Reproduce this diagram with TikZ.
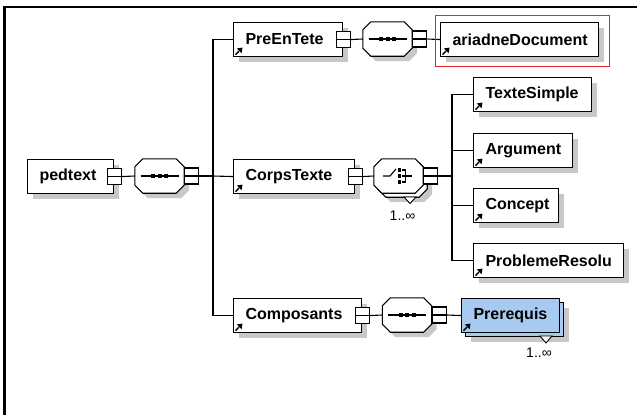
\documentclass[tikz,border=0pt]{standalone}
\usepackage{fontspec}
\setmainfont{Liberation Sans}
\usetikzlibrary{shadows}
\definecolor{shgray}{RGB}{200,200,200}
\definecolor{preblue}{RGB}{166,202,240}
\definecolor{hilite}{RGB}{228,40,40}
\newcommand\eltext[2]{\makebox[#1][l]{\hspace{12pt}#2}}
\newcommand\octpath[1]{([xshift=8pt]#1.north west) -- ([xshift=-8pt]#1.north east) -- ([yshift=-8pt]#1.north east) -- ([yshift=8pt]#1.south east) -- ([xshift=-8pt]#1.south east) -- ([xshift=8pt]#1.south west) -- ([yshift=8pt]#1.south west) -- ([yshift=-8pt]#1.north west) -- cycle}
\newcommand\drawoct[2][]{%
  \begin{scope}[transform canvas={shift={(5pt,-5pt)}}]\fill[shgray] \octpath{#2};\end{scope}
  \draw[line width=1.1pt,fill=white,#1] \octpath{#2};}
\begin{document}
\begin{tikzpicture}[x=1pt,y=-1pt,
  shad/.style={drop shadow={shadow xshift=5pt,shadow yshift=-5pt,fill=shgray,opacity=1}},
  el/.style={draw,line width=1.1pt,fill=white,inner sep=0pt,minimum height=34pt,anchor=north west,
    font=\fontsize{16}{18}\selectfont\bfseries,shad},
  elplain/.style={draw,line width=1.1pt,fill=white,inner sep=0pt,minimum height=34pt,anchor=north west,
    font=\fontsize{16}{18}\selectfont\bfseries},
  octa/.style={rectangle,minimum width=49pt,minimum height=34pt,inner sep=0pt},
  sq/.style={draw,line width=1.1pt,fill=white,minimum width=14pt,minimum height=16pt,inner sep=0pt},
  conn/.style={line width=1.1pt},
  mult/.style={font=\fontsize{14}{16}\selectfont,inner sep=0pt},
  refarrow/.pic={\draw[line width=1.4pt] (2.5,-2.5) -- (6,-6);
    \fill (9.5,-9.5) -- (3.8,-8.6) -- (8.6,-3.8) -- cycle;},
  seqsym/.pic={\draw[line width=1.1pt] (-19,0) -- (19,0);
    \foreach \dx in {-6.5,0,6.5} \fill (\dx-2,-2) rectangle (\dx+2,2);},
  chsym/.pic={\draw[line width=1.1pt] (-15.5,0) -- (-8.5,0) -- (-2.5,-7);
    \foreach \dy in {-6,0,6} \fill (-0.5,\dy-1.7) rectangle (2.9,\dy+1.7);
    \draw[line width=1.1pt] (3,-6) -- (7,-6) (3,0) -- (7,0) (3,6) -- (7,6) (7,-6.5) -- (7,6.5) (7,0) -- (13,0);},
  tri/.style={draw,line width=0.9pt,fill=white}
]
\useasboundingbox (0,0) rectangle (637,415);
\fill[white] (0,0) rectangle (637,415);
\draw[line width=2.2pt] (4.5,415) -- (4.5,7) -- (637,7);

% root
\node[el] (ped) at (27,159) {\eltext{86pt}{pedtext}};
\node[sq] (pedsq) at (ped.east) {};
\draw[conn] (pedsq.west) -- (pedsq.east);
\node[octa] (seq1) at (159.5,176) {};
\drawoct{seq1}
\pic at (seq1.center) {seqsym};
\node[sq,anchor=west] (seq1sq) at (seq1.east) {};
\draw[conn] (seq1sq.west) -- (seq1sq.east);
\draw[conn] (pedsq.east) -- (seq1.west);

% children of root
\node[el] (pre) at (233,22) {\eltext{109pt}{PreEnTete}};
\node[el] (corps) at (233,159) {\eltext{121pt}{CorpsTexte}};
\node[el] (compo) at (233,298) {\eltext{128pt}{Composants}};
\coordinate (spine) at (213,176);
\draw[conn] (seq1sq.east) -- (spine);
\draw[conn] (pre.west) -- ++(-20,0) |- (compo.west);
\draw[conn] (spine) -- (corps.west);

% PreEnTete branch
\node[sq] (presq) at (pre.east) {};
\draw[conn] (presq.west) -- (presq.east);
\node[octa] (seq2) at (387.5,39) {};
\drawoct{seq2}
\pic at (seq2.center) {seqsym};
\node[sq,anchor=west] (seq2sq) at (seq2.east) {};
\draw[conn] (seq2sq.west) -- (seq2sq.east);
\node[el] (ari) at (440,22) {\eltext{158pt}{ariadneDocument}};
\draw[conn] (presq.east) -- (seq2.west);
\draw[conn] (seq2sq.east) -- (ari.west);
\draw[hilite,line width=0.9pt] (435,15) rectangle (609,66);

% CorpsTexte branch
\node[sq] (corpssq) at (corps.east) {};
\draw[conn] (corpssq.west) -- (corpssq.east);
\node[octa] (chb) at (402.5,180) {};
\drawoct{chb}
\draw[tri] (404,197) -- (416,197) -- (410,203.5) -- cycle;
\node[octa] (ch) at (398.5,176) {};
\draw[line width=1.1pt,fill=white] \octpath{ch};
\pic at (ch.center) {chsym};
\node[sq,anchor=west] (chsq) at (ch.east) {};
\draw[conn] (chsq.west) -- (chsq.east);
\node[mult] (chm) at (402.5,216) {1..∞};
\draw[conn] (corpssq.east) -- (ch.west);

\node[el] (ts) at (473,77) {\eltext{118pt}{TexteSimple}};
\node[el] (arg) at (473,133) {\eltext{99pt}{Argument}};
\node[el] (con) at (473,188) {\eltext{85pt}{Concept}};
\node[el] (pb) at (473,243) {\eltext{150pt}{ProblemeResolu}};
\coordinate (spine2) at (452,176);
\draw[conn] (chsq.east) -- (spine2);
\draw[conn] (ts.west) -- ++(-21,0) |- (pb.west);
\draw[conn] (spine2 |- arg.west) -- (arg.west);
\draw[conn] (spine2 |- con.west) -- (con.west);

% Composants branch
\node[sq] (composq) at (compo.east) {};
\draw[conn] (composq.west) -- (composq.east);
\node[octa] (seq3) at (407,315) {};
\drawoct{seq3}
\pic at (seq3.center) {seqsym};
\node[sq,anchor=west] (seq3sq) at (seq3.east) {};
\draw[conn] (seq3sq.west) -- (seq3sq.east);
\draw[conn] (composq.east) -- (seq3.west);
\node[el,fill=preblue] (preqb) at (465,302) {\makebox[98pt]{}};
\draw[tri] (540,336) -- (552,336) -- (546,343) -- cycle;
\node[elplain,fill=preblue] (preq) at (461,298) {\eltext{98pt}{Prerequis}};
\node[mult] (preqm) at (539,353) {1..∞};
\draw[conn] (seq3sq.east) -- (preq.west);

\foreach \n in {pre,corps,compo,ari,ts,arg,con,pb,preq}
  \pic at (\n.south west) {refarrow};
\end{tikzpicture}
\end{document}
